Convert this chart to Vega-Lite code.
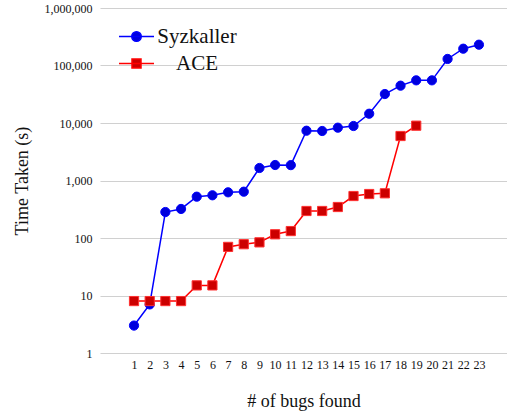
{
  "$schema": "https://vega.github.io/schema/vega-lite/v6.json",
  "autosize": "none",
  "width": 407,
  "height": 345,
  "padding": {"left": 100, "top": 8, "right": 0, "bottom": 61},
  "background": "white",
  "config": {
    "view": {"stroke": null},
    "font": "Liberation Serif",
    "axis": {"labelFont": "Liberation Serif", "titleFont": "Liberation Serif", "labelColor": "#111", "titleColor": "#111", "titleFontWeight": "normal"},
    "legend": {"labelFont": "Liberation Serif"}
  },
  "data": {"values": [
    {"bugs": 1, "series": "Syzkaller", "time": 3},
    {"bugs": 2, "series": "Syzkaller", "time": 7},
    {"bugs": 3, "series": "Syzkaller", "time": 283},
    {"bugs": 4, "series": "Syzkaller", "time": 320},
    {"bugs": 5, "series": "Syzkaller", "time": 523},
    {"bugs": 6, "series": "Syzkaller", "time": 553},
    {"bugs": 7, "series": "Syzkaller", "time": 623},
    {"bugs": 8, "series": "Syzkaller", "time": 639},
    {"bugs": 9, "series": "Syzkaller", "time": 1650},
    {"bugs": 10, "series": "Syzkaller", "time": 1860},
    {"bugs": 11, "series": "Syzkaller", "time": 1850},
    {"bugs": 12, "series": "Syzkaller", "time": 7340},
    {"bugs": 13, "series": "Syzkaller", "time": 7260},
    {"bugs": 14, "series": "Syzkaller", "time": 8290},
    {"bugs": 15, "series": "Syzkaller", "time": 8870},
    {"bugs": 16, "series": "Syzkaller", "time": 14500},
    {"bugs": 17, "series": "Syzkaller", "time": 31900},
    {"bugs": 18, "series": "Syzkaller", "time": 44600},
    {"bugs": 19, "series": "Syzkaller", "time": 55200},
    {"bugs": 20, "series": "Syzkaller", "time": 55200},
    {"bugs": 21, "series": "Syzkaller", "time": 130000},
    {"bugs": 22, "series": "Syzkaller", "time": 196000},
    {"bugs": 23, "series": "Syzkaller", "time": 230000},
    {"bugs": 1, "series": "ACE", "time": 8},
    {"bugs": 2, "series": "ACE", "time": 8},
    {"bugs": 3, "series": "ACE", "time": 8},
    {"bugs": 4, "series": "ACE", "time": 8},
    {"bugs": 5, "series": "ACE", "time": 15},
    {"bugs": 6, "series": "ACE", "time": 15},
    {"bugs": 7, "series": "ACE", "time": 70},
    {"bugs": 8, "series": "ACE", "time": 78},
    {"bugs": 9, "series": "ACE", "time": 84},
    {"bugs": 10, "series": "ACE", "time": 116},
    {"bugs": 11, "series": "ACE", "time": 132},
    {"bugs": 12, "series": "ACE", "time": 295},
    {"bugs": 13, "series": "ACE", "time": 295},
    {"bugs": 14, "series": "ACE", "time": 346},
    {"bugs": 15, "series": "ACE", "time": 537},
    {"bugs": 16, "series": "ACE", "time": 582},
    {"bugs": 17, "series": "ACE", "time": 599},
    {"bugs": 18, "series": "ACE", "time": 5940},
    {"bugs": 19, "series": "ACE", "time": 8980}
  ]},
  "encoding": {
    "x": {
      "field": "bugs", "type": "quantitative",
      "scale": {"domain": [-1.17, 24.79], "nice": false, "zero": false},
      "axis": {
        "title": "# of bugs found", "titleFontSize": 18, "titlePadding": 22,
        "values": [1,2,3,4,5,6,7,8,9,10,11,12,13,14,15,16,17,18,19,20,21,22,23],
        "labelFontSize": 12, "labelPadding": 6, "grid": false, "ticks": false, "domain": false
      }
    },
    "y": {
      "field": "time", "type": "quantitative",
      "scale": {"type": "log", "domain": [1, 1000000], "nice": false},
      "axis": {
        "title": "Time Taken (s)", "titleFontSize": 18, "titlePadding": 13,
        "values": [1, 10, 100, 1000, 10000, 100000, 1000000], "format": ",",
        "labelFontSize": 12, "labelPadding": 8, "ticks": false, "domain": false,
        "grid": true, "gridColor": "#d0d0d0", "gridWidth": 1.2
      }
    }
  },
  "layer": [
    {
      "mark": {"type": "line", "strokeWidth": 1.5},
      "encoding": {
        "stroke": {
          "field": "series", "type": "nominal",
          "scale": {"domain": ["Syzkaller", "ACE"], "range": ["#0000ff", "#ff0000"]},
          "legend": {
            "title": null, "orient": "none", "legendX": 26, "legendY": 18, "padding": 0,
            "labelFontSize": 21, "labelColor": "#111", "labelAlign": "center", "labelOffset": 50,
            "symbolSize": 100, "rowPadding": 5, "symbolStrokeWidth": 1.5,
            "encode": {"symbols": {"update": {
              "shape": {"signal": "datum.value === 'ACE' ? 'M-3.5,0H3.5M-0.9,-0.9H0.9V0.9H-0.9Z' : 'M-3.5,0H3.5M0.95,0A0.95,0.95,0,1,1,-0.95,0A0.95,0.95,0,1,1,0.95,0Z'"},
              "stroke": {"signal": "datum.value === 'ACE' ? '#ff0000' : '#0000ff'"},
              "strokeWidth": {"value": 1.5},
              "fill": {"signal": "datum.value === 'ACE' ? '#cc0000' : '#0000dd'"}
            }}}
          }
        }
      }
    },
    {
      "transform": [{"filter": "datum.series === 'Syzkaller'"}],
      "mark": {"type": "point", "shape": "circle", "filled": true, "fill": "#0000dd", "stroke": "#0000ff", "strokeWidth": 1, "opacity": 1, "size": 85},
      "encoding": {}
    },
    {
      "transform": [{"filter": "datum.series === 'ACE'"}],
      "mark": {"type": "point", "shape": "square", "filled": true, "fill": "#cc0000", "stroke": "#ff3030", "strokeWidth": 1, "opacity": 1, "size": 85},
      "encoding": {}
    }
  ]
}
